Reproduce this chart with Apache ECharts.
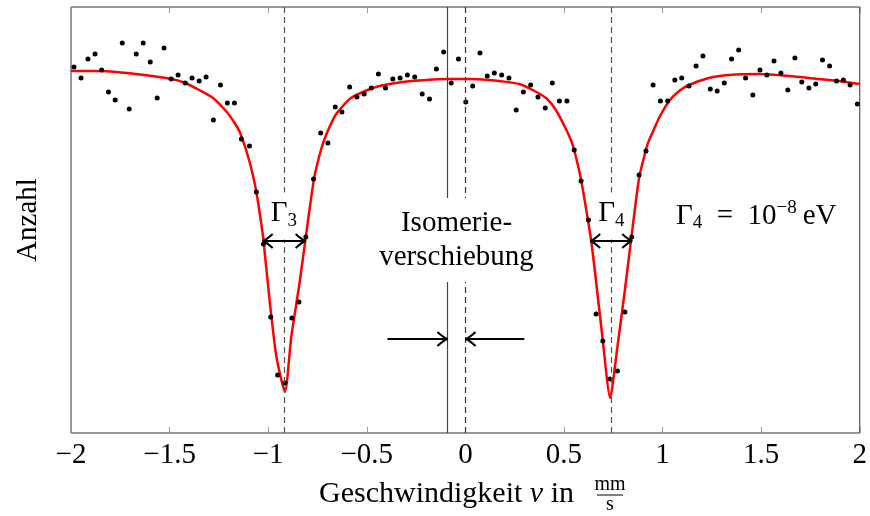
<!DOCTYPE html>
<html>
<head>
<meta charset="utf-8">
<script src="https://cdn.jsdelivr.net/npm/echarts@6/dist/echarts.min.js"></script>
<style>
html, body { margin: 0; padding: 0; background: #fff; }
#chart { width: 870px; height: 516px; }
</style>
</head>
<body>
<div id="chart"></div>
<script>
// Messpunkte [v in mm/s, Anzahl]
const messwerte = [
    [-1.985, 366], [-1.949, 355], [-1.914, 374], [-1.878, 379], [-1.845, 363], [-1.810, 341],
    [-1.776, 333], [-1.740, 390], [-1.705, 324], [-1.669, 379], [-1.634, 390], [-1.598, 371],
    [-1.563, 335], [-1.528, 385], [-1.492, 354], [-1.457, 358], [-1.421, 350], [-1.386, 355],
    [-1.350, 352], [-1.315, 356], [-1.278, 313], [-1.242, 348], [-1.207, 330], [-1.171, 330],
    [-1.136, 294], [-1.095, 287], [-1.060, 241], [-1.024, 189], [-0.987, 116], [-0.952, 58],
    [-0.915, 50], [-0.880, 115], [-0.844, 131], [-0.809, 196], [-0.770, 254], [-0.734, 300],
    [-0.697, 290], [-0.660, 326], [-0.626, 321], [-0.587, 346], [-0.550, 336], [-0.513, 339],
    [-0.477, 345], [-0.441, 359], [-0.405, 345], [-0.368, 354], [-0.331, 355], [-0.294, 358],
    [-0.257, 356], [-0.219, 339], [-0.182, 334], [-0.147, 364], [-0.110, 381], [-0.072, 350],
    [-0.035, 374], [0.002, 331], [0.037, 347], [0.074, 380], [0.111, 357], [0.147, 360],
    [0.184, 358], [0.221, 355], [0.258, 323], [0.294, 341], [0.331, 348], [0.368, 336],
    [0.405, 325], [0.441, 350], [0.477, 332], [0.515, 332], [0.552, 283], [0.587, 252],
    [0.624, 213], [0.663, 119], [0.697, 92], [0.734, 54], [0.771, 62], [0.809, 121],
    [0.844, 196], [0.881, 258], [0.916, 282], [0.952, 348], [0.989, 332], [1.026, 332],
    [1.062, 353], [1.097, 355], [1.134, 347], [1.170, 367], [1.205, 377], [1.242, 344],
    [1.277, 342], [1.313, 350], [1.350, 374], [1.386, 383], [1.421, 355], [1.458, 338],
    [1.494, 363], [1.529, 358], [1.565, 372], [1.600, 360], [1.635, 343], [1.671, 375],
    [1.706, 351], [1.742, 345], [1.777, 349], [1.811, 373], [1.847, 367], [1.882, 352],
    [1.917, 353], [1.951, 348], [1.988, 329]
];

// Fitkurve
const fitkurve = [
    [-2.00, 362], [-1.85, 362], [-1.67, 359], [-1.49, 354], [-1.42, 350], [-1.35, 343],
    [-1.28, 335], [-1.21, 321], [-1.17, 310], [-1.14, 299], [-1.094, 271], [-1.06, 241],
    [-1.034, 208], [-1.024, 193], [-0.992, 131], [-0.958, 76], [-0.915, 41], [-0.883, 96],
    [-0.841, 150], [-0.81, 195], [-0.79, 224], [-0.765, 257], [-0.731, 284], [-0.714, 294],
    [-0.689, 306], [-0.655, 319], [-0.587, 334], [-0.52, 341], [-0.435, 347], [-0.317, 351],
    [-0.199, 353], [-0.098, 354], [0.02, 354], [0.122, 353], [0.172, 352], [0.273, 349],
    [0.341, 343], [0.409, 335], [0.459, 323], [0.51, 304], [0.535, 293], [0.552, 283],
    [0.587, 253], [0.619, 216], [0.639, 191], [0.662, 153], [0.695, 96], [0.734, 35],
    [0.771, 86], [0.809, 143], [0.839, 191], [0.881, 255], [0.918, 285], [0.932, 293],
    [0.957, 304], [0.982, 315], [1.033, 332], [1.084, 342], [1.134, 348], [1.235, 355],
    [1.337, 358], [1.489, 359], [1.641, 357], [1.792, 354], [1.894, 352], [2.00, 349]
];

// Resonanzlagen (gestrichelt), Schwerpunkt (durchgezogen), Nullpunkt
const resonanzen = [-0.92, 0.74];
const schwerpunkt = -0.09;
const nullpunkt = 0;

// Halbwertsbreiten-Pfeile [von, bis, hoehe]
const breitenPfeile = [[-1.028, -0.81, 192], [0.633, 0.846, 192]];
// Isomerieverschiebung-Pfeile [von, bis, hoehe]
const shiftPfeile = [[-0.395, -0.091, 94], [0.299, 0.001, 94]];

// Beschriftungen [x, y]
const gammaLabels = [['Γ', '3', -0.92, 217], ['Γ', '4', 0.74, 217]];
const isoLabel = [-0.045, 193];
const gammaWert = [1.475, 217];

const serif = "'Liberation Serif', 'DejaVu Serif', serif";

const chart = echarts.init(document.getElementById('chart'));

const option = {
    animation: false,
    backgroundColor: '#fff',
    grid: {
        left: 71, right: 9, top: 7, bottom: 83,
        show: true, borderColor: '#333', borderWidth: 1
    },
    xAxis: [
        {
            type: 'value', min: -2, max: 2, interval: 0.5,
            axisLine: { show: false },
            axisTick: { show: true, inside: true, length: 6, lineStyle: { color: '#999' } },
            splitLine: { show: false },
            axisLabel: {
                margin: 8,
                fontFamily: serif, fontSize: 29, color: '#000',
                formatter: v => String(v).replace('-', '\u2212')
            }
        },
        {
            type: 'value', min: -2, max: 2, interval: 0.5, position: 'top',
            axisLine: { show: false },
            axisTick: { show: true, inside: true, length: 6, lineStyle: { color: '#999' } },
            splitLine: { show: false },
            axisLabel: { show: false }
        }
    ],
    yAxis: {
        type: 'value', min: 0, max: 426,
        axisLine: { show: false },
        axisTick: { show: false },
        axisLabel: { show: false },
        splitLine: { show: false }
    },
    series: [
        {
            type: 'line',
            data: [],
            silent: true,
            markLine: {
                silent: true,
                symbol: ['none', 'none'],
                label: { show: false },
                data: [
                    ...resonanzen.map(x => ({ xAxis: x, lineStyle: { color: '#555', type: [6, 4], width: 1.2 } })),
                    { xAxis: nullpunkt, lineStyle: { color: '#333', type: [6, 4], width: 1.2 } },
                    { xAxis: schwerpunkt, lineStyle: { color: '#444', type: 'solid', width: 1.2 } }
                ]
            },
            z: 1
        },
        {
            name: 'Fit',
            type: 'line',
            data: fitkurve,
            showSymbol: false,
            smooth: 0.2,
            lineStyle: { color: '#ff0000', width: 2.5 },
            z: 3
        },
        {
            name: 'Messung',
            type: 'scatter',
            data: messwerte,
            symbolSize: 5,
            itemStyle: { color: '#000', opacity: 1 },
            z: 4
        }
    ]
};

chart.setOption(option);

// Beschriftungen und Pfeile in Pixel umrechnen
const toPx = p => chart.convertToPixel({ xAxisIndex: 0, yAxisIndex: 0 }, p);
const graphics = [];

function pfeilSpitze(tip, dir) {
    // gebogene Widerhaken wie TikZ "to"
    const back = 10, spread = 7;
    return [-1, 1].map(s => ({
        type: 'bezierCurve',
        z: 200,
        shape: {
            x1: tip[0], y1: tip[1],
            x2: tip[0] - dir * back, y2: tip[1] + s * spread,
            cpx1: tip[0] - dir * back * 0.35, cpy1: tip[1] + s * spread * 0.15
        },
        style: { stroke: '#000', lineWidth: 2, fill: null }
    }));
}

function pfeil(a, b, beidseitig) {
    const pa = toPx([a[0], a[1]]);
    const pb = toPx([b[0], b[1]]);
    graphics.push({
        type: 'line', z: 200,
        shape: { x1: pa[0], y1: pa[1], x2: pb[0], y2: pb[1] },
        style: { stroke: '#000', lineWidth: 2 }
    });
    const dir = pb[0] > pa[0] ? 1 : -1;
    graphics.push(...pfeilSpitze(pb, dir));
    if (beidseitig) graphics.push(...pfeilSpitze(pa, -dir));
}

const richGamma = {
    g: { fontFamily: serif, fontSize: 29, lineHeight: 34, fill: '#000', color: '#000' },
    s: { fontFamily: serif, fontSize: 19, lineHeight: 19, verticalAlign: 'bottom', fill: '#000', color: '#000' },
    p: { fontFamily: serif, fontSize: 19, lineHeight: 19, verticalAlign: 'top', fill: '#000', color: '#000' }
};

gammaLabels.forEach(l => {
    const p = toPx([l[2], l[3]]);
    graphics.push({
        type: 'text', z: 150, x: p[0], y: p[1],
        style: {
            text: '{g|' + l[0] + '}{s|' + l[1] + '}',
            rich: richGamma,
            align: 'center', verticalAlign: 'middle',
            textAlign: 'center', textVerticalAlign: 'middle',
            backgroundColor: '#fff', padding: [4, 3, 9, 3]
        }
    });
});

breitenPfeile.forEach(a => pfeil([a[0], a[2]], [a[1], a[2]], true));
shiftPfeile.forEach(a => pfeil([a[0], a[2]], [a[1], a[2]], false));

const pIso = toPx(isoLabel);
graphics.push({
    type: 'text', z: 150, x: pIso[0], y: pIso[1],
    style: {
        text: 'Isomerie-\nverschiebung',
        fontFamily: serif, fontSize: 29, lineHeight: 34, fill: '#000',
        align: 'center', verticalAlign: 'middle',
        textAlign: 'center', textVerticalAlign: 'middle',
        backgroundColor: '#fff', padding: [8, 2, 8, 2]
    }
});

const pWert = toPx(gammaWert);
graphics.push({
    type: 'text', z: 150, x: pWert[0], y: pWert[1],
    style: {
        text: '{g|Γ}{s|4}{g|\u2002=\u200210}{p|\u22128}{g|\u2009eV}',
        rich: richGamma,
        align: 'center', verticalAlign: 'middle',
        textAlign: 'center', textVerticalAlign: 'middle'
    }
});

// Achsentitel
graphics.push({
    type: 'text', z: 150, x: 28, y: 220, rotation: Math.PI / 2,
    style: {
        text: 'Anzahl', fontFamily: serif, fontSize: 29, fill: '#000',
        align: 'center', verticalAlign: 'middle',
        textAlign: 'center', textVerticalAlign: 'middle'
    }
});
graphics.push({
    type: 'text', z: 150, x: 574, y: 494,
    style: {
        text: 'Geschwindigkeit {i|v} in',
        fontFamily: serif, fontSize: 30, fill: '#000',
        rich: { i: { fontFamily: serif, fontSize: 30, fontStyle: 'italic', fill: '#000', color: '#000' } },
        align: 'right', verticalAlign: 'middle',
        textAlign: 'right', textVerticalAlign: 'middle'
    }
});
graphics.push({
    type: 'text', z: 150, x: 610, y: 485,
    style: {
        text: 'mm', fontFamily: serif, fontSize: 20, fill: '#000',
        align: 'center', verticalAlign: 'middle',
        textAlign: 'center', textVerticalAlign: 'middle'
    }
});
graphics.push({
    type: 'line', z: 150,
    shape: { x1: 597, y1: 495, x2: 623, y2: 495 },
    style: { stroke: '#000', lineWidth: 1 }
});
graphics.push({
    type: 'text', z: 150, x: 610, y: 505,
    style: {
        text: 's', fontFamily: serif, fontSize: 20, fill: '#000',
        align: 'center', verticalAlign: 'middle',
        textAlign: 'center', textVerticalAlign: 'middle'
    }
});

chart.setOption({ graphic: graphics });
</script>
</body>
</html>
